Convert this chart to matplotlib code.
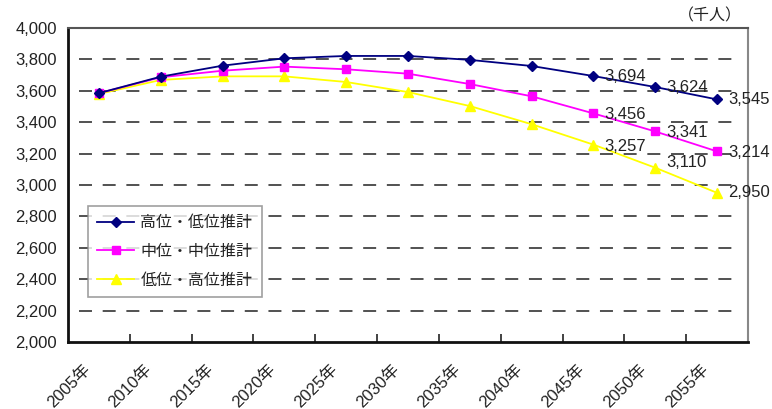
import matplotlib
matplotlib.use("Agg")
import matplotlib.pyplot as plt
from matplotlib.ticker import FuncFormatter, FixedLocator

plt.rcParams['font.family'] = ['Liberation Sans', 'Noto Sans CJK JP', 'DejaVu Sans']

years = ["2005年", "2010年", "2015年", "2020年", "2025年", "2030年",
         "2035年", "2040年", "2045年", "2050年", "2055年"]
high_low = [3585, 3690, 3760, 3807, 3822, 3822, 3797, 3758, 3694, 3624, 3545]
mid_mid = [3585, 3686, 3728, 3754, 3737, 3709, 3643, 3565, 3456, 3341, 3214]
low_high = [3580, 3669, 3692, 3692, 3656, 3592, 3503, 3387, 3257, 3110, 2950]
series_names = ["高位・低位推計", "中位・中位推計", "低位・高位推計"]
y_ticks = [2000, 2200, 2400, 2600, 2800, 3000, 3200, 3400, 3600, 3800, 4000]

W, H = 772, 409
fig = plt.figure(figsize=(W / 100, H / 100), dpi=100)
ax = fig.add_axes([68 / W, 1 - 342 / H, 680 / W, 314 / H])

x = list(range(len(years)))
txt = '#222222'

ax.plot(x, high_low, color='#000080', lw=1.3, marker='D', ms=4.8,
        label=series_names[0], zorder=5)
ax.plot(x, mid_mid, color='#FF00FF', lw=1.3, marker='s', ms=5.5,
        label=series_names[1], zorder=4)
ax.plot(x, low_high, color='#FFFF00', lw=1.3, marker='^', ms=7,
        label=series_names[2], zorder=3)

ax.set_xlim(-0.5, len(years) - 0.5)
ax.set_ylim(2000, 4000)
ax.set_yticks(y_ticks)
ax.yaxis.set_major_formatter(FuncFormatter(lambda v, p: f"{int(v):,}"))
ax.tick_params(axis='y', length=0, pad=8, labelsize=12, labelcolor=txt)

# grid lines
for v in y_ticks[1:-1]:
    ax.plot([-0.33, 10.32], [v, v], color='#222222', lw=1.1,
            dashes=(8.5, 7.0), zorder=1)

# x ticks at category boundaries
ax.xaxis.set_major_locator(FixedLocator([i + 0.5 for i in x]))
ax.set_xticklabels([])
ax.tick_params(axis='x', direction='in', length=6, width=1.2, color='#222222')
for i, lab in enumerate(years):
    ax.annotate(lab, xy=(i, 2000), xycoords='data', xytext=(-8, -18),
                textcoords='offset points', rotation=45,
                rotation_mode='anchor', ha='right', va='center',
                fontsize=12, color=txt)

for s in ['left', 'bottom']:
    ax.spines[s].set_linewidth(2.0)
    ax.spines[s].set_color('#111111')
ax.spines['top'].set_linewidth(1.5)
ax.spines['top'].set_color('#555555')
ax.spines['right'].set_linewidth(1.5)
ax.spines['right'].set_color('#888888')

# data labels
offs = {(0, 8): 0, (0, 9): 0, (0, 10): 0,
        (1, 8): -1, (1, 9): -1, (1, 10): -1,
        (2, 8): -1, (2, 9): 4, (2, 10): 0}
for si, data in enumerate([high_low, mid_mid, low_high]):
    for i in range(8, 11):
        ax.annotate(f"{data[i]:,}", xy=(i, data[i]), xytext=(8, offs[(si, i)]),
                    textcoords='offset points', ha='left', va='center',
                    fontsize=12, color=txt, zorder=6)

fig.text(742 / W, 1 - 16 / H, "（千人）", ha='right', va='center',
         fontsize=11.5, color=txt)

leg = ax.legend(loc='lower left', bbox_to_anchor=(0.029, 0.143),
                borderaxespad=0, fancybox=False, fontsize=11.5,
                handlelength=2.3, labelspacing=0.85, borderpad=0.6,
                handletextpad=0.4)
leg.get_frame().set_edgecolor('#888888')
leg.get_frame().set_linewidth(1.2)
for t in leg.get_texts():
    t.set_color(txt)

fig.savefig("out.png", dpi=100)
